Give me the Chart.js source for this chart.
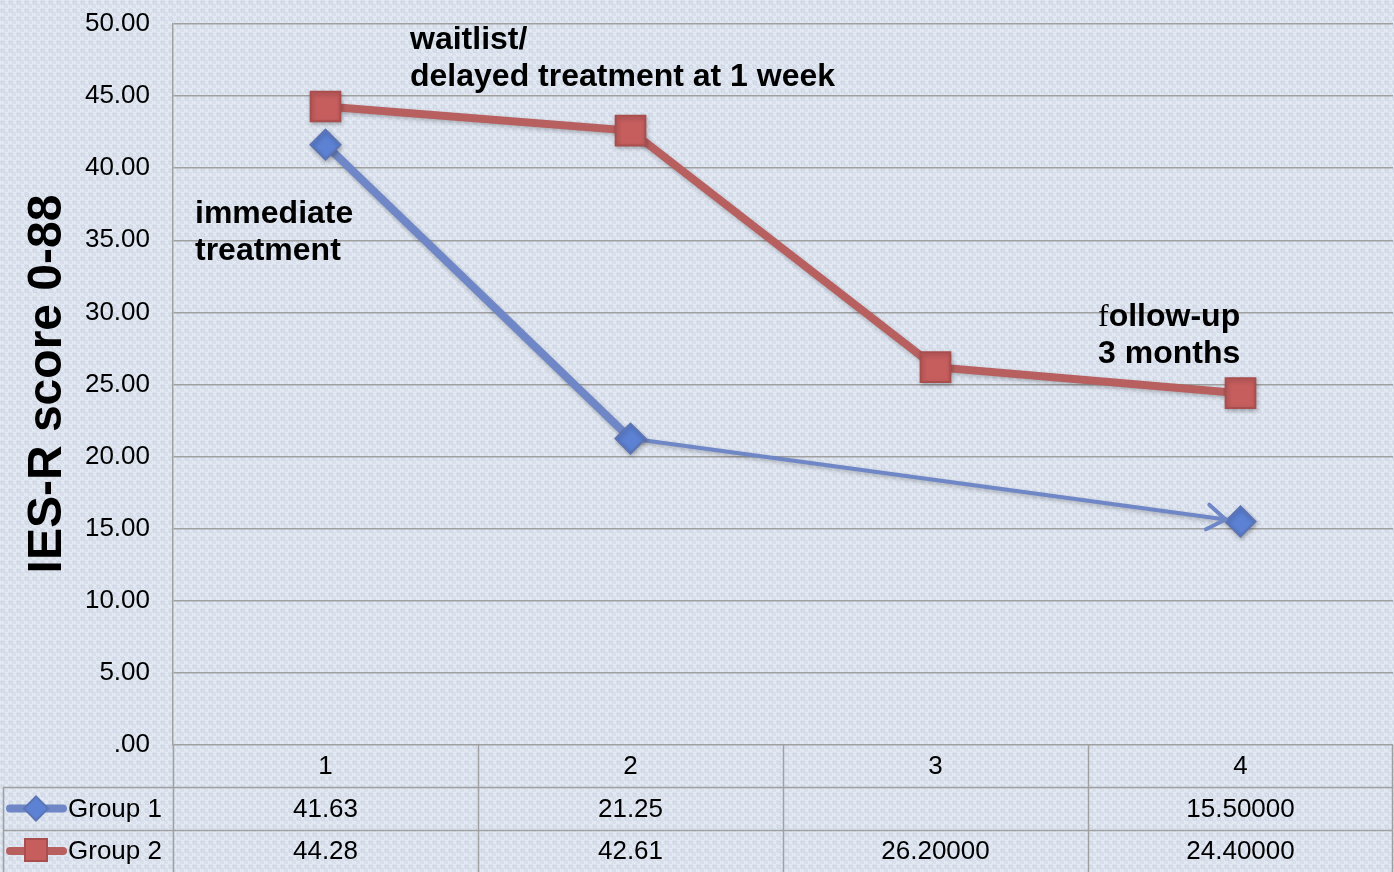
<!DOCTYPE html>
<html>
<head>
<meta charset="utf-8">
<script src="https://cdn.jsdelivr.net/npm/chart.js@4/dist/chart.umd.min.js"></script>
<style>
  body { margin: 0; background: #e1e8f2; }
  canvas { display: block; }
</style>
</head>
<body>
<canvas id="ies-chart" width="1394" height="872"></canvas>
<script>
// data
const categories = ['1', '2', '3', '4'];
const group1 = [41.63, 21.25, null, 15.5];
const group2 = [44.28, 42.61, 26.2, 24.4];
const group1Labels = ['41.63', '21.25', '', '15.50000'];
const group2Labels = ['44.28', '42.61', '26.20000', '24.40000'];
const yTicks = [0, 5, 10, 15, 20, 25, 30, 35, 40, 45, 50];

const blueLine = '#6f87c6';
const redLine = '#b8605f';
const gridGray = '#a0a0a0';
const font = '"Liberation Sans", Arial, sans-serif';

function makePattern(ctx) {
    const tile = document.createElement('canvas');
    tile.width = 8;
    tile.height = 8;
    const t = tile.getContext('2d');
    t.fillStyle = '#e3e9f3';
    t.fillRect(0, 0, 8, 8);
    t.fillStyle = '#d9e0ec';
    t.fillRect(0, 0, 4, 4);
    t.fillRect(4, 4, 4, 4);
    t.strokeStyle = '#d0d8e6';
    t.lineWidth = 1;
    t.strokeRect(1.5, 1.5, 3, 3);
    return ctx.createPattern(tile, 'repeat');
}

const backgroundPlugin = {
    id: 'background',
    beforeDraw(chart) {
        const ctx = chart.ctx;
        ctx.save();
        ctx.fillStyle = makePattern(ctx);
        ctx.fillRect(0, 0, chart.width, chart.height);
        ctx.restore();
    }
};

// shadow under lines and markers
const shadowPlugin = {
    id: 'shadow',
    beforeDatasetsDraw(chart) {
        const ctx = chart.ctx;
        ctx.save();
        ctx.shadowColor = 'rgba(0,0,0,0.25)';
        ctx.shadowBlur = 4;
        ctx.shadowOffsetX = 1;
        ctx.shadowOffsetY = 2;
    },
    afterDatasetsDraw(chart) {
        chart.ctx.restore();
    }
};

// arrow head on the thin group 1 segment, plus title, annotations and data table
const extrasPlugin = {
    id: 'extras',
    afterDatasetsDraw(chart) {
        const ctx = chart.ctx;
        const meta = chart.getDatasetMeta(0);
        const p0 = meta.data[1];
        const p1 = meta.data[3];
        const dx = p1.x - p0.x, dy = p1.y - p0.y;
        const len = Math.sqrt(dx * dx + dy * dy);
        const ux = dx / len, uy = dy / len;
        const tipX = p1.x - ux * 15, tipY = p1.y - uy * 15;
        const wing = 22, ang = 0.6;
        ctx.save();
        ctx.strokeStyle = blueLine;
        ctx.lineWidth = 4;
        ctx.lineCap = 'round';
        ctx.lineJoin = 'round';
        ctx.beginPath();
        ctx.moveTo(tipX - wing * (ux * Math.cos(ang) - uy * Math.sin(ang)),
                   tipY - wing * (uy * Math.cos(ang) + ux * Math.sin(ang)));
        ctx.lineTo(tipX, tipY);
        ctx.lineTo(tipX - wing * (ux * Math.cos(ang) + uy * Math.sin(ang)),
                   tipY - wing * (uy * Math.cos(ang) - ux * Math.sin(ang)));
        ctx.stroke();
        ctx.restore();
    },
    afterDraw(chart) {
        const ctx = chart.ctx;
        const area = chart.chartArea;
        const x = chart.scales.x;
        ctx.save();

        // y axis title
        ctx.save();
        ctx.translate(48, 384);
        ctx.rotate(-Math.PI / 2);
        ctx.fillStyle = '#000';
        ctx.font = 'bold 48px ' + font;
        ctx.textAlign = 'center';
        ctx.textBaseline = 'middle';
        ctx.fillText('IES-R score 0-88', 0, 0);
        ctx.restore();

        // annotations
        ctx.fillStyle = '#000';
        ctx.font = 'bold 32px ' + font;
        ctx.textAlign = 'left';
        ctx.textBaseline = 'middle';
        ctx.fillText('waitlist/', 410, 40);
        ctx.fillText('delayed treatment at 1 week', 410, 77);
        ctx.fillText('immediate', 195, 214);
        ctx.fillText('treatment', 195, 251);
        ctx.font = '32px "Liberation Serif", serif';
        ctx.fillText('f', 1098, 318);
        const fw = ctx.measureText('f').width;
        ctx.font = 'bold 32px ' + font;
        ctx.fillText('ollow-up', 1098 + fw, 317);
        ctx.fillText('3 months', 1098, 354);

        // data table
        const rowTop = [area.bottom, 787, 830, 872];
        const step = x.getPixelForValue(1) - x.getPixelForValue(0);
        const edges = categories.map((c, i) => x.getPixelForValue(i) - step / 2);
        edges.push(area.right - 1);
        ctx.strokeStyle = gridGray;
        ctx.lineWidth = 1.5;
        ctx.beginPath();
        edges.forEach(e => {
            ctx.moveTo(Math.round(e) + 0.5, rowTop[0]);
            ctx.lineTo(Math.round(e) + 0.5, rowTop[3]);
        });
        ctx.moveTo(3.5, rowTop[1]);
        ctx.lineTo(3.5, rowTop[3]);
        ctx.moveTo(3, rowTop[1] + 0.5);
        ctx.lineTo(area.right, rowTop[1] + 0.5);
        ctx.moveTo(3, rowTop[2] + 0.5);
        ctx.lineTo(area.right, rowTop[2] + 0.5);
        ctx.stroke();

        ctx.fillStyle = '#000';
        ctx.font = '26px ' + font;
        ctx.textAlign = 'center';
        ctx.textBaseline = 'middle';
        categories.forEach((c, i) => {
            const cx = x.getPixelForValue(i);
            ctx.fillText(c, cx, (rowTop[0] + rowTop[1]) / 2 + 1);
            ctx.fillText(group1Labels[i], cx, (rowTop[1] + rowTop[2]) / 2 + 1);
            ctx.fillText(group2Labels[i], cx, (rowTop[2] + rowTop[3]) / 2 + 1);
        });

        // legend keys in the table
        const keys = [
            { label: 'Group 1', y: (rowTop[1] + rowTop[2]) / 2, color: blueLine, fill: '#5d82d4', edge: '#5b74b5', shape: 'diamond' },
            { label: 'Group 2', y: (rowTop[2] + rowTop[3]) / 2, color: redLine, fill: '#c65e5e', edge: '#a94e4e', shape: 'square' }
        ];
        keys.forEach(k => {
            ctx.strokeStyle = k.color;
            ctx.lineWidth = 8;
            ctx.lineCap = 'round';
            ctx.beginPath();
            ctx.moveTo(10, k.y);
            ctx.lineTo(63, k.y);
            ctx.stroke();
            ctx.fillStyle = k.fill;
            ctx.strokeStyle = k.edge;
            ctx.lineWidth = 2;
            ctx.beginPath();
            if (k.shape === 'diamond') {
                ctx.moveTo(36, k.y - 12);
                ctx.lineTo(48, k.y);
                ctx.lineTo(36, k.y + 12);
                ctx.lineTo(24, k.y);
                ctx.closePath();
            } else {
                ctx.rect(25, k.y - 12, 22, 22);
            }
            ctx.fill();
            ctx.stroke();
            ctx.fillStyle = '#000';
            ctx.font = '26px ' + font;
            ctx.textAlign = 'left';
            ctx.fillText(k.label, 68, k.y + 1);
        });
        ctx.restore();
    }
};

const ctx = document.getElementById('ies-chart').getContext('2d');
new Chart(ctx, {
    type: 'line',
    data: {
        labels: categories,
        datasets: [
            {
                label: 'Group 1',
                data: group1,
                spanGaps: true,
                borderColor: blueLine,
                borderWidth: 8,
                segment: {
                    borderWidth: c => c.p0DataIndex === 0 ? 8 : 4
                },
                pointStyle: 'rectRot',
                pointRadius: 15,
                pointBackgroundColor: '#5d82d4',
                pointBorderColor: '#5b74b5',
                pointBorderWidth: 2,
                tension: 0
            },
            {
                label: 'Group 2',
                data: group2,
                borderColor: redLine,
                borderWidth: 8,
                pointStyle: 'rect',
                pointRadius: 21,
                pointBackgroundColor: '#c65e5e',
                pointBorderColor: '#a94e4e',
                pointBorderWidth: 2,
                tension: 0
            }
        ]
    },
    options: {
        responsive: false,
        animation: false,
        layout: {
            autoPadding: false,
            padding: { top: 24, bottom: 127, left: 0, right: 1 }
        },
        plugins: {
            legend: { display: false },
            tooltip: { enabled: false }
        },
        scales: {
            x: {
                display: false,
                offset: true
            },
            y: {
                min: 0,
                max: 50,
                afterFit(scale) {
                    scale.width = 173;
                    scale.paddingTop = 0;
                    scale.paddingBottom = 0;
                },
                afterBuildTicks(scale) { scale.ticks = yTicks.map(v => ({ value: v })); },
                grid: {
                    color: gridGray,
                    lineWidth: 1.5,
                    drawTicks: false
                },
                border: { display: true, color: gridGray, width: 1.5 },
                ticks: {
                    padding: 23,
                    color: '#000',
                    font: { family: font, size: 26 },
                    callback: v => v === 0 ? '.00' : v.toFixed(2)
                }
            }
        }
    },
    plugins: [backgroundPlugin, shadowPlugin, extrasPlugin]
});
</script>
</body>
</html>
